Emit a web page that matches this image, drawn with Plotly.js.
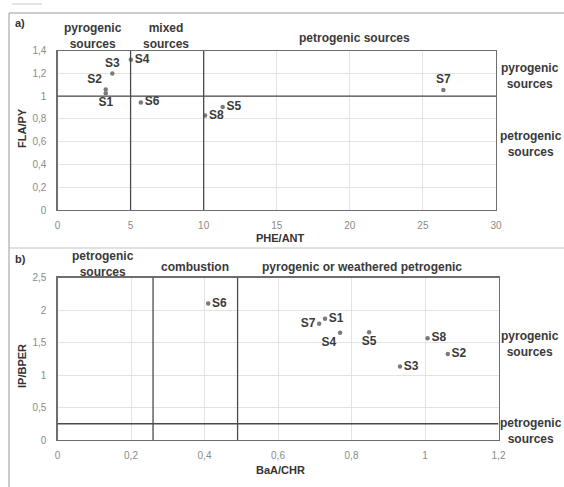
<!DOCTYPE html>
<html>
<head>
<meta charset="utf-8">
<script src="https://cdn.plot.ly/plotly-3.0.1.min.js"></script>
<style>
  html, body { margin: 0; padding: 0; background: #fff; }
  #chart { width: 564px; height: 487px; }
</style>
</head>
<body>
<div id="chart"></div>
<script>
// ---- a) FLA/PY vs PHE/ANT ----
const samplesA = ['S1', 'S2', 'S3', 'S4', 'S5', 'S6', 'S7', 'S8'];
const pheAnt   = [3.3, 3.3, 3.75, 5.02, 11.3, 5.7, 26.4, 10.1];
const flaPy    = [1.025, 1.06, 1.2, 1.32, 0.905, 0.945, 1.055, 0.83];
const labelPosA = ['bottom center', 'top left', 'top center', 'middle right',
                   'middle right', 'middle right', 'top center', 'middle right'];
const xTicksA = [0, 5, 10, 15, 20, 25, 30];
const xTickTextA = ['0', '5', '10', '15', '20', '25', '30'];
const yTicksA = [0, 0.2, 0.4, 0.6, 0.8, 1, 1.2, 1.4];
const yTickTextA = ['0', '0,2', '0,4', '0,6', '0,8', '1', '1,2', '1,4'];
const xSplitsA = [5, 10];      // pyrogenic | mixed | petrogenic
const ySplitA = 1;             // pyrogenic above, petrogenic below

// ---- b) IP/BPER vs BaA/CHR ----
const samplesB = ['S1', 'S2', 'S3', 'S4', 'S5', 'S6', 'S7', 'S8'];
const baaChr   = [0.728, 1.062, 0.932, 0.769, 0.848, 0.41, 0.712, 1.007];
const ipBper   = [1.865, 1.325, 1.13, 1.65, 1.657, 2.1, 1.79, 1.565];
const labelPosB = ['middle right', 'middle right', 'middle right', 'bottom left',
                   'bottom center', 'middle right', 'middle left', 'middle right'];
const xTicksB = [0, 0.2, 0.4, 0.6, 0.8, 1, 1.2];
const xTickTextB = ['0', '0,2', '0,4', '0,6', '0,8', '1', '1,2'];
const yTicksB = [0, 0.5, 1, 1.5, 2, 2.5];
const yTickTextB = ['0', '0,5', '1', '1,5', '2', '2,5'];
const xSplitsB = [0.26, 0.49]; // petrogenic | combustion | pyrogenic/weathered
const ySplitB = 0.25;

const W = 564, H = 487;
const fx = p => p / W;          // pixel column -> paper fraction
const fy = p => 1 - p / H;      // pixel row -> paper fraction

const FONT = '"Liberation Sans", Arial, sans-serif';
const tickFont = { family: FONT, size: 10, color: '#8a8a8a' };
const labelFont = { family: FONT, size: 12, color: '#3a3a3a', weight: 'bold' };
const titleFont = { family: FONT, size: 11, color: '#333', weight: 'bold' };
const pointFont = { family: FONT, size: 12, color: '#3a3a3a', weight: 'bold' };

function axisStyle(extra) {
  return Object.assign({
    showline: true, mirror: true, linecolor: '#6e6e6e', linewidth: 1.2,
    showgrid: true, gridcolor: '#e3e3e3', gridwidth: 1,
    zeroline: false, ticks: '', tickmode: 'array',
    tickfont: tickFont, fixedrange: true
  }, extra);
}

const traces = [
  {
    type: 'scatter', mode: 'markers+text', xaxis: 'x', yaxis: 'y',
    x: pheAnt, y: flaPy, text: samplesA, textposition: labelPosA,
    marker: { size: 4.5, color: '#7a7a7a' },
    textfont: pointFont, cliponaxis: false, hoverinfo: 'skip'
  },
  {
    type: 'scatter', mode: 'markers+text', xaxis: 'x2', yaxis: 'y2',
    x: baaChr, y: ipBper, text: samplesB, textposition: labelPosB,
    marker: { size: 4.5, color: '#7a7a7a' },
    textfont: pointFont, cliponaxis: false, hoverinfo: 'skip'
  }
];

// threshold lines, in data units
const splitLine = { color: '#4a4a4a', width: 1.3 };
const shapes = [];
xSplitsA.forEach(v => shapes.push({ type: 'line', xref: 'x', yref: 'y',
  x0: v, x1: v, y0: 0, y1: 1.4, line: splitLine }));
shapes.push({ type: 'line', xref: 'x', yref: 'y', x0: 0, x1: 30,
  y0: ySplitA, y1: ySplitA, line: splitLine });
xSplitsB.forEach(v => shapes.push({ type: 'line', xref: 'x2', yref: 'y2',
  x0: v, x1: v, y0: 0, y1: 2.5, line: splitLine }));
shapes.push({ type: 'line', xref: 'x2', yref: 'y2', x0: 0, x1: 1.2,
  y0: ySplitB, y1: ySplitB, line: splitLine });

// outer panel frames
const frame = { color: '#9a9a9a', width: 1 };
shapes.push({ type: 'line', xref: 'paper', yref: 'paper',
  x0: fx(9), x1: 1, y0: fy(13), y1: fy(13), line: frame });
shapes.push({ type: 'line', xref: 'paper', yref: 'paper',
  x0: fx(9), x1: 1, y0: fy(248), y1: fy(248), line: { color: '#c4c4c4', width: 1 } });
shapes.push({ type: 'line', xref: 'paper', yref: 'paper',
  x0: fx(9), x1: fx(9), y0: fy(13), y1: 0, line: frame });
shapes.push({ type: 'line', xref: 'paper', yref: 'paper',
  x0: fx(12), x1: fx(42), y0: fy(4), y1: fy(4), line: { color: '#c8c8c8', width: 1 } });

function note(text, x, y, opts) {
  return Object.assign({
    text: text, xref: 'paper', yref: 'paper', x: fx(x), y: fy(y),
    xanchor: 'center', yanchor: 'middle', showarrow: false,
    font: labelFont, align: 'center'
  }, opts || {});
}

const annotations = [
  note('a)', 20, 23, { font: titleFont }),
  note('pyrogenic<br>sources', 93, 36),
  note('mixed<br>sources', 166, 36),
  note('petrogenic sources', 354, 38),
  note('pyrogenic<br>sources', 530, 76),
  note('petrogenic<br>sources', 531, 144),
  note('FLA/PY', 22, 128, { textangle: -90, font: titleFont }),
  note('PHE/ANT', 280, 238, { font: titleFont }),

  note('b)', 20, 259, { font: titleFont }),
  note('petrogenic<br>sources', 103, 264),
  note('combustion', 195, 267),
  note('pyrogenic or weathered petrogenic', 362, 267),
  note('pyrogenic<br>sources', 530, 344),
  note('petrogenic<br>sources', 531, 431),
  note('IP/BPER', 22, 366, { textangle: -90, font: titleFont }),
  note('BaA/CHR', 280, 470, { font: titleFont })
];

const layout = {
  width: W, height: H,
  margin: { l: 0, r: 0, t: 0, b: 0 },
  paper_bgcolor: '#fff', plot_bgcolor: '#fff',
  showlegend: false,
  separators: ', ',
  font: { family: FONT },
  xaxis: axisStyle({ domain: [fx(57.5), fx(496)], range: [0, 30],
    tickvals: xTicksA, ticktext: xTickTextA, anchor: 'y', ticklabelstandoff: 6 }),
  yaxis: axisStyle({ domain: [fy(210), fy(50.7)], range: [0, 1.4],
    tickvals: yTicksA, ticktext: yTickTextA, anchor: 'x', ticklabelstandoff: 8 }),
  xaxis2: axisStyle({ domain: [fx(57.5), fx(498.5)], range: [0, 1.2],
    tickvals: xTicksB, ticktext: xTickTextB, anchor: 'y2', ticklabelstandoff: 6 }),
  yaxis2: axisStyle({ domain: [fy(440), fy(277.5)], range: [0, 2.5],
    tickvals: yTicksB, ticktext: yTickTextB, anchor: 'x2', ticklabelstandoff: 8 }),
  shapes: shapes,
  annotations: annotations
};

Plotly.newPlot('chart', traces, layout, { staticPlot: true, displayModeBar: false });
</script>
</body>
</html>
